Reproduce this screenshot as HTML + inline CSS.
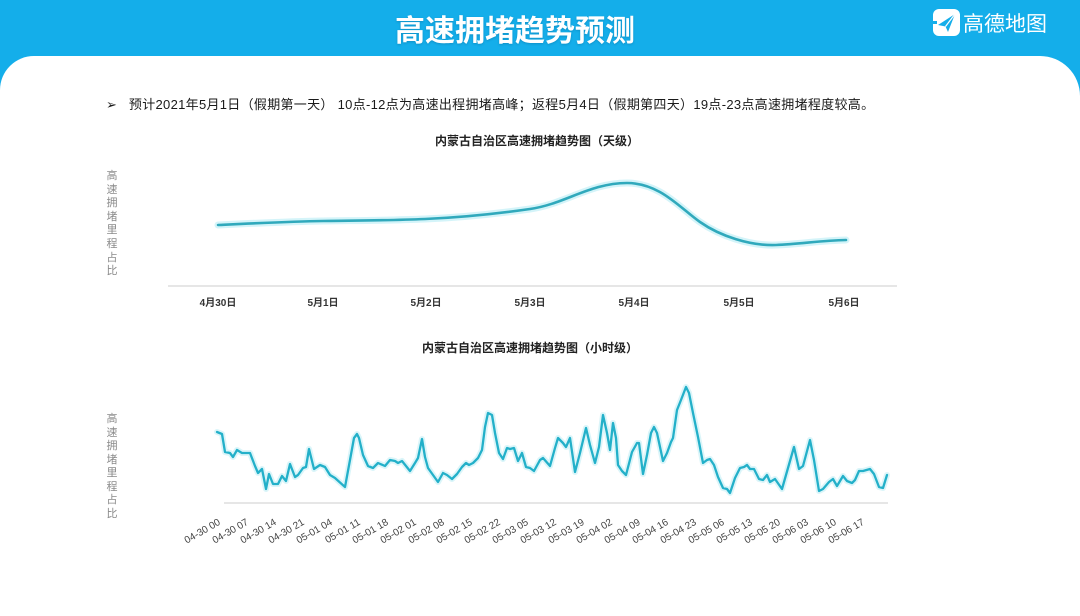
<!DOCTYPE html>
<html>
<head>
<meta charset="utf-8">
<style>
  html,body{margin:0;padding:0;}
  body{width:1080px;height:598px;overflow:hidden;background:#14aeea;position:relative;font-family:"Liberation Sans","Noto Sans CJK SC",sans-serif;}
  .title{position:absolute;left:390px;width:250px;top:6px;text-align:center;color:#fff;font-size:30px;font-weight:bold;font-family:"Liberation Sans","Noto Sans CJK SC",sans-serif;letter-spacing:0px;white-space:nowrap;text-shadow:0 1px 2px rgba(0,60,100,0.25);}
  .logo{position:absolute;left:932px;top:8px;}
  .logotext{position:absolute;left:963px;top:8px;color:#fff;font-size:21px;font-family:"Liberation Sans","Noto Sans CJK SC",sans-serif;letter-spacing:0px;}
  .panel{position:absolute;left:0;top:56px;width:1080px;height:560px;background:#fff;border-radius:34px 40px 0 0;}
  .bullet{position:absolute;left:106px;top:94px;font-size:13px;color:#1a1a1a;white-space:nowrap;letter-spacing:0.3px;font-family:"Liberation Sans","Noto Sans CJK SC",sans-serif;}
  svg{position:absolute;left:0;top:0;}
</style>
</head>
<body>
<div class="title">高速拥堵趋势预测</div>
<svg class="logo" width="30" height="30" viewBox="0 0 30 30">
  <rect x="1" y="1" width="27" height="27" rx="6" fill="#fff"/>
  <path d="M6,17 L23,6 L16,24 L13.5,18.5 Z" fill="#14aeea"/>
  <path d="M13.5,18.5 L23,6" stroke="#fff" stroke-width="1.2"/>
  <rect x="1" y="13" width="4" height="3" fill="#14aeea"/>
</svg>
<div class="logotext">高德地图</div>
<div class="panel"></div>
<div class="bullet">➢&nbsp;&nbsp;&nbsp;预计2021年5月1日（假期第一天） 10点-12点为高速出程拥堵高峰；返程5月4日（假期第四天）19点-23点高速拥堵程度较高。</div>

<svg width="1080" height="598" viewBox="0 0 1080 598">
  <g font-family="Liberation Sans, Noto Sans CJK SC, sans-serif">
    <!-- Chart 1 -->
    <text x="537" y="145" text-anchor="middle" font-size="12" font-weight="bold" fill="#222">内蒙古自治区高速拥堵趋势图（天级）</text>
    <g font-size="11" fill="#8a8a8a" text-anchor="middle">
      <text x="112" y="179">高</text>
      <text x="112" y="193">速</text>
      <text x="112" y="206">拥</text>
      <text x="112" y="220">堵</text>
      <text x="112" y="233">里</text>
      <text x="112" y="247">程</text>
      <text x="112" y="261">占</text>
      <text x="112" y="274">比</text>
    </g>
    <line x1="168" y1="286" x2="897" y2="286" stroke="#e6e6e6" stroke-width="2"/>
    <g font-size="10" fill="#333" text-anchor="middle" font-weight="bold">
      <text x="218" y="306">4月30日</text>
      <text x="323" y="306">5月1日</text>
      <text x="426" y="306">5月2日</text>
      <text x="530" y="306">5月3日</text>
      <text x="634" y="306">5月4日</text>
      <text x="739" y="306">5月5日</text>
      <text x="844" y="306">5月6日</text>
    </g>
    <path d="M218,225 C260,223 290,221.5 323,221 C356,220.5 390,220.5 425,219 C460,217.5 495,214 530,209 C565,204 590,183 627,183 C660,183 680,208 700,222 C720,236 750,246 776,245 C800,244 822,240.5 846,240" fill="none" stroke="#c9f1f7" stroke-width="7" stroke-linecap="round" opacity="0.8"/>
    <path d="M218,225 C260,223 290,221.5 323,221 C356,220.5 390,220.5 425,219 C460,217.5 495,214 530,209 C565,204 590,183 627,183 C660,183 680,208 700,222 C720,236 750,246 776,245 C800,244 822,240.5 846,240" fill="none" stroke="#30a9bc" stroke-width="2.6" stroke-linecap="round"/>

    <!-- Chart 2 -->
    <text x="530" y="352" text-anchor="middle" font-size="12" font-weight="bold" fill="#222">内蒙古自治区高速拥堵趋势图（小时级）</text>
    <g font-size="11" fill="#8a8a8a" text-anchor="middle">
      <text x="112" y="422">高</text>
      <text x="112" y="436">速</text>
      <text x="112" y="449">拥</text>
      <text x="112" y="463">堵</text>
      <text x="112" y="476">里</text>
      <text x="112" y="490">程</text>
      <text x="112" y="503">占</text>
      <text x="112" y="517">比</text>
    </g>
    <line x1="224" y1="503" x2="888" y2="503" stroke="#e6e6e6" stroke-width="2"/>
    <g fill="none" stroke-linejoin="round" stroke-linecap="round">
      <polyline stroke="#d2f3f8" stroke-width="6" opacity="0.8" points="217,432 222,434 225,452 230,453 233,457 237,450 242,453 250,453 255,466 258,473 262,469 266,489 269,474 273,484 278,484 282,476 286,481 290,464 295,477 298,475 303,468 306,467 309,449 314,469 320,465 325,467 330,475 335,478 345,487 350,460 354,438 357,434 359,438 363,455 368,466 373,468 378,463 385,466 390,460 395,461 398,463 402,461 410,471 415,463 418,458 422,439 425,457 428,468 433,475 438,482 443,473 447,475 452,479 457,474 462,467 466,463 469,465 473,463 478,458 482,450 485,427 488,413 492,415 495,433 499,453 503,459 507,448 510,449 514,448 518,461 522,453 526,467 530,468 534,471 540,460 543,458 550,466 555,448 558,438 563,443 566,447 570,438 575,472 580,453 586,428 590,445 595,463 599,447 603,415 607,433 610,450 613,423 616,438 618,465 622,471 626,475 632,452 637,443 639,443 643,474 647,455 651,433 654,427 657,433 663,461 667,453 671,442 673,438 677,410 681,400 686,387 689,393 693,413 698,437 703,463 707,460 710,459 714,465 718,477 723,488 727,489 730,493 735,478 740,468 744,467 747,465 750,469 754,469 759,479 763,480 767,475 770,482 775,479 782,489 788,468 794,447 799,469 803,466 810,440 814,460 819,491 823,489 829,482 833,479 837,486 843,476 847,481 852,483 855,480 859,471 863,471 870,469 874,474 879,487 883,488 887,475"/>
      <polyline stroke="#23b0c9" stroke-width="2.3" points="217,432 222,434 225,452 230,453 233,457 237,450 242,453 250,453 255,466 258,473 262,469 266,489 269,474 273,484 278,484 282,476 286,481 290,464 295,477 298,475 303,468 306,467 309,449 314,469 320,465 325,467 330,475 335,478 345,487 350,460 354,438 357,434 359,438 363,455 368,466 373,468 378,463 385,466 390,460 395,461 398,463 402,461 410,471 415,463 418,458 422,439 425,457 428,468 433,475 438,482 443,473 447,475 452,479 457,474 462,467 466,463 469,465 473,463 478,458 482,450 485,427 488,413 492,415 495,433 499,453 503,459 507,448 510,449 514,448 518,461 522,453 526,467 530,468 534,471 540,460 543,458 550,466 555,448 558,438 563,443 566,447 570,438 575,472 580,453 586,428 590,445 595,463 599,447 603,415 607,433 610,450 613,423 616,438 618,465 622,471 626,475 632,452 637,443 639,443 643,474 647,455 651,433 654,427 657,433 663,461 667,453 671,442 673,438 677,410 681,400 686,387 689,393 693,413 698,437 703,463 707,460 710,459 714,465 718,477 723,488 727,489 730,493 735,478 740,468 744,467 747,465 750,469 754,469 759,479 763,480 767,475 770,482 775,479 782,489 788,468 794,447 799,469 803,466 810,440 814,460 819,491 823,489 829,482 833,479 837,486 843,476 847,481 852,483 855,480 859,471 863,471 870,469 874,474 879,487 883,488 887,475"/>
    </g>
    <g font-size="10" fill="#444" text-anchor="end">
      <text transform="translate(221,524) rotate(-30)">04-30 00</text>
      <text transform="translate(249,524) rotate(-30)">04-30 07</text>
      <text transform="translate(277,524) rotate(-30)">04-30 14</text>
      <text transform="translate(305,524) rotate(-30)">04-30 21</text>
      <text transform="translate(333,524) rotate(-30)">05-01 04</text>
      <text transform="translate(361,524) rotate(-30)">05-01 11</text>
      <text transform="translate(389,524) rotate(-30)">05-01 18</text>
      <text transform="translate(417,524) rotate(-30)">05-02 01</text>
      <text transform="translate(445,524) rotate(-30)">05-02 08</text>
      <text transform="translate(473,524) rotate(-30)">05-02 15</text>
      <text transform="translate(501,524) rotate(-30)">05-02 22</text>
      <text transform="translate(529,524) rotate(-30)">05-03 05</text>
      <text transform="translate(557,524) rotate(-30)">05-03 12</text>
      <text transform="translate(585,524) rotate(-30)">05-03 19</text>
      <text transform="translate(613,524) rotate(-30)">05-04 02</text>
      <text transform="translate(641,524) rotate(-30)">05-04 09</text>
      <text transform="translate(669,524) rotate(-30)">05-04 16</text>
      <text transform="translate(697,524) rotate(-30)">05-04 23</text>
      <text transform="translate(725,524) rotate(-30)">05-05 06</text>
      <text transform="translate(753,524) rotate(-30)">05-05 13</text>
      <text transform="translate(781,524) rotate(-30)">05-05 20</text>
      <text transform="translate(809,524) rotate(-30)">05-06 03</text>
      <text transform="translate(837,524) rotate(-30)">05-06 10</text>
      <text transform="translate(865,524) rotate(-30)">05-06 17</text>
    </g>
  </g>
</svg>
</body>
</html>
